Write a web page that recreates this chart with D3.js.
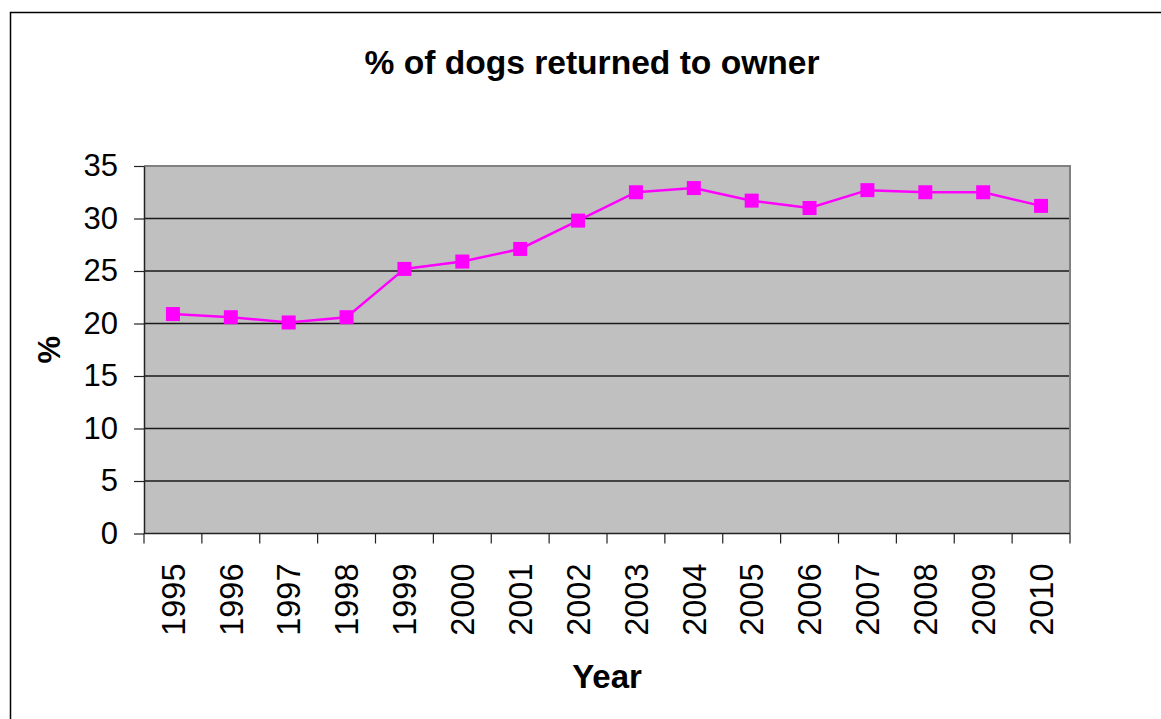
<!DOCTYPE html>
<html>
<head>
<meta charset="utf-8">
<script src="https://cdn.jsdelivr.net/npm/d3@7"></script>
<style>
  body { margin: 0; background: #fff; }
  svg { display: block; font-family: Arial, 'Liberation Sans', sans-serif; }
</style>
</head>
<body>
<div class="chart"></div>
<script>
const years = ['1995', '1996', '1997', '1998', '1999', '2000', '2001', '2002',
  '2003', '2004', '2005', '2006', '2007', '2008', '2009', '2010'];
const returnedPct = [20.9, 20.6, 20.1, 20.6, 25.2, 25.9, 27.1, 29.8,
  32.5, 32.9, 31.7, 31.0, 32.7, 32.5, 32.5, 31.2];
const yTicks = [0, 5, 10, 15, 20, 25, 30, 35];

const config = { width: 1161, height: 719 };
const plot = { left: 144, right: 1070, top: 166, bottom: 533.5 };

const svg = d3.select('.chart')
  .append('svg')
  .attr('width', config.width)
  .attr('height', config.height);

// outer frame (runs off the right / bottom edges in the original)
svg.append('rect')
  .attr('x', 10.5)
  .attr('y', 12.5)
  .attr('width', config.width + 20)
  .attr('height', config.height + 20)
  .attr('fill', 'none')
  .attr('stroke', '#000')
  .attr('stroke-width', 1.5);

const x = d3.scaleBand()
  .domain(years)
  .range([plot.left, plot.right])
  .padding(0);

const y = d3.scaleLinear()
  .domain([0, 35])
  .range([plot.bottom, plot.top]);

// plot background
svg.append('rect')
  .attr('x', plot.left)
  .attr('y', plot.top)
  .attr('width', plot.right - plot.left)
  .attr('height', plot.bottom - plot.top)
  .attr('fill', '#c0c0c0');

// gridlines
svg.append('g')
  .selectAll('line')
  .data(yTicks.filter(d => d > 0 && d < 35))
  .enter()
  .append('line')
  .attr('x1', plot.left)
  .attr('x2', plot.right)
  .attr('y1', d => y(d))
  .attr('y2', d => y(d))
  .attr('stroke', '#1a1a1a')
  .attr('stroke-width', 1.5);

// top / right border of plot area
svg.append('path')
  .attr('d', `M${plot.left},${plot.top}H${plot.right}V${plot.bottom}`)
  .attr('fill', 'none')
  .attr('stroke', '#808080')
  .attr('stroke-width', 2);

// y axis
const yAxis = svg.append('g')
  .attr('transform', `translate(${plot.left},0)`)
  .call(d3.axisLeft(y).tickValues(yTicks).tickSize(10).tickSizeOuter(0).tickPadding(16));
yAxis.select('.domain').attr('stroke', '#222').attr('stroke-width', 1.5);
yAxis.selectAll('.tick line').attr('stroke', '#222').attr('stroke-width', 1.2);
yAxis.selectAll('.tick text')
  .attr('font-size', 31)
  .attr('fill', '#000')
  .attr('font-family', 'Arial, Liberation Sans, sans-serif');

// x axis: line, ticks between categories, rotated labels
const xAxis = svg.append('g');
xAxis.append('line')
  .attr('x1', plot.left)
  .attr('x2', plot.right)
  .attr('y1', plot.bottom)
  .attr('y2', plot.bottom)
  .attr('stroke', '#222')
  .attr('stroke-width', 1.5);

const boundaries = years.map(d => x(d)).concat([x(years[years.length - 1]) + x.bandwidth()]);
xAxis.selectAll('.xtick')
  .data(boundaries)
  .enter()
  .append('line')
  .attr('class', 'xtick')
  .attr('x1', d => d)
  .attr('x2', d => d)
  .attr('y1', plot.bottom)
  .attr('y2', plot.bottom + 10)
  .attr('stroke', '#222')
  .attr('stroke-width', 1.2);

xAxis.selectAll('.xlabel')
  .data(years)
  .enter()
  .append('text')
  .attr('class', 'xlabel')
  .attr('transform', d => `translate(${x(d) + x.bandwidth() / 2},${plot.bottom + 30}) rotate(-90)`)
  .attr('text-anchor', 'end')
  .attr('dy', '0.36em')
  .attr('font-size', 32.5)
  .attr('fill', '#000')
  .text(d => d);

// series
const points = years.map((d, i) => ({ year: d, value: returnedPct[i] }));

svg.append('path')
  .datum(points)
  .attr('fill', 'none')
  .attr('stroke', '#ff00ff')
  .attr('stroke-width', 2.5)
  .attr('d', d3.line()
    .x(d => x(d.year) + x.bandwidth() / 2)
    .y(d => y(d.value)));

svg.append('g')
  .selectAll('rect')
  .data(points)
  .enter()
  .append('rect')
  .attr('x', d => x(d.year) + x.bandwidth() / 2 - 7)
  .attr('y', d => y(d.value) - 7)
  .attr('width', 14)
  .attr('height', 14)
  .attr('fill', '#ff00ff');

// titles
svg.append('text')
  .attr('x', 592)
  .attr('y', 74)
  .attr('text-anchor', 'middle')
  .attr('font-size', 33)
  .attr('font-weight', 'bold')
  .attr('textLength', 455)
  .attr('lengthAdjust', 'spacingAndGlyphs')
  .text('% of dogs returned to owner');

svg.append('text')
  .attr('x', 607)
  .attr('y', 688)
  .attr('text-anchor', 'middle')
  .attr('font-size', 33)
  .attr('font-weight', 'bold')
  .text('Year');

svg.append('text')
  .attr('transform', `translate(60,${(plot.top + plot.bottom) / 2}) rotate(-90)`)
  .attr('text-anchor', 'middle')
  .attr('font-size', 31)
  .attr('font-weight', 'bold')
  .text('%');
</script>
</body>
</html>
